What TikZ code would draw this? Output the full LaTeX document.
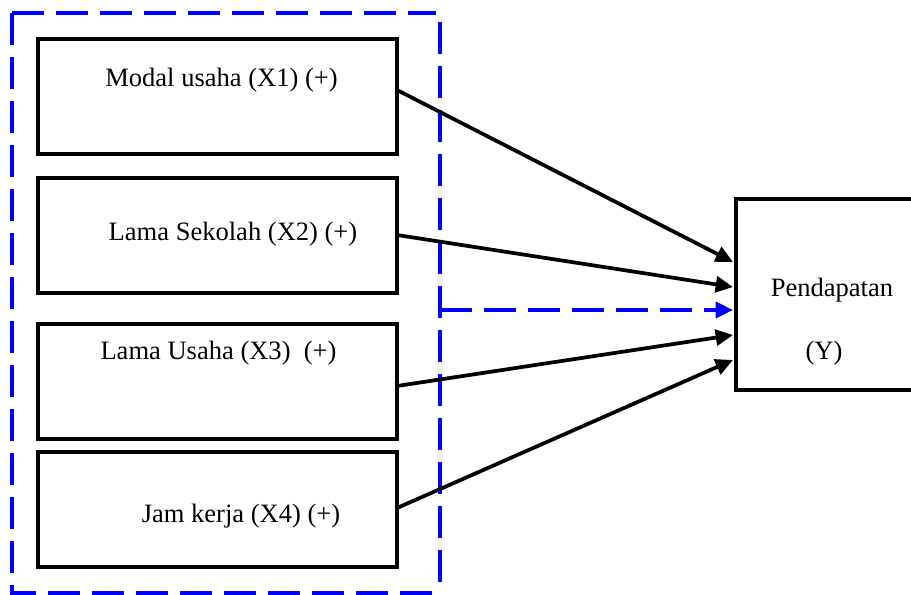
\documentclass[tikz,border=0pt]{standalone}
\usepackage{fontspec}
\setmainfont{Liberation Serif}
\usetikzlibrary{arrows.meta}
\begin{document}
\begin{tikzpicture}[x=0.75pt,y=-0.75pt,
  varbox/.style={draw=black,line width=3pt,rectangle,minimum width=359*0.75pt,minimum height=115*0.75pt,inner sep=0pt,outer sep=0pt,anchor=north west},
  lbl/.style={font=\fontsize{19.9}{24}\selectfont,inner sep=0pt,anchor=base},
  link/.style={line width=2.8pt,-{Triangle[length=13pt,width=12pt]}},
  groupline/.style={draw=blue,line width=3pt,dash pattern=on 24pt off 9pt}]
\useasboundingbox (0,0) rectangle (911,595);
% group frame around the independent variables
\coordinate (gtl) at (12,13);
\coordinate (gtr) at (436,13);
\coordinate (grt) at (440,22);
\coordinate (grb) at (440,593);
\coordinate (gbl) at (12,593);
\draw[groupline] (gtl) -- (gtr);
\draw[groupline] (gtl) -- (gbl) -- (grb);
\draw[groupline] (grt) -- (grb);
% independent variables
\node[varbox] (x1) at (38,39) {};
\node[varbox] (x2) at (38,178) {};
\node[varbox] (x3) at (38,324) {};
\node[varbox] (x4) at (38,452) {};
\node[lbl] (t1) at (221.5,87) {Modal usaha (X1) (+)};
\node[lbl] (t2) at (233,241) {Lama Sekolah (X2) (+)};
\node[lbl] (t3) at (218.5,360) {Lama Usaha (X3)\ \ (+)};
\node[lbl] (t4) at (241,522) {Jam kerja (X4) (+)};
% dependent variable
\node[draw=black,line width=3pt,rectangle,minimum width=190*0.75pt,minimum height=191*0.75pt,inner sep=0pt,outer sep=0pt,anchor=north west] (y) at (736,199) {};
\node[lbl] (ty1) at (832,297) {Pendapatan};
\node[lbl] (ty2) at (824,360) {(Y)};
% partial effects
\coordinate (e1) at (733,262);
\coordinate (e2) at (733,287);
\coordinate (e3) at (733,335);
\coordinate (e4) at (733,360);
\draw[link] (x1.east |- 0,90) -- (e1);
\draw[link] (x2.east |- 0,235) -- (e2);
\draw[link] (x3.east |- 0,386) -- (e3);
\draw[link] (x4.east |- 0,508) -- (e4);
% simultaneous effect
\coordinate (gs) at (440,310);
\coordinate (ge) at (733,310);
\draw[draw=blue,line width=3pt,dash pattern=on 24pt off 9pt,-{Triangle[length=13pt,width=12pt,fill=blue]}] (gs) -- (ge);
\end{tikzpicture}
\end{document}
